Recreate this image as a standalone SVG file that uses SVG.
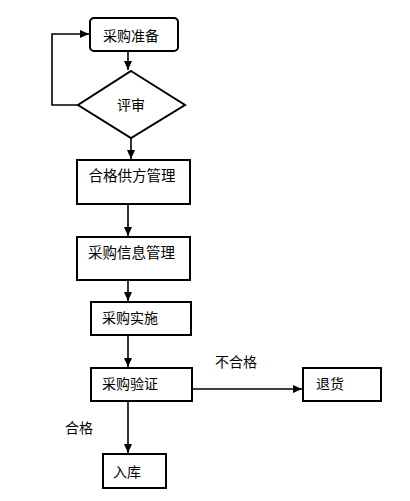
<svg xmlns="http://www.w3.org/2000/svg" width="410" height="501" viewBox="0 0 410 501">
<style>
.box{fill:#fff;stroke:#000;stroke-width:2}
.t{font-family:"Noto Sans CJK SC","Noto Sans",sans-serif;font-size:14px;fill:#000}
.c{fill:none;stroke:#000;stroke-width:1.6}
</style>
<defs>
<marker id="ah" markerUnits="userSpaceOnUse" markerWidth="10" markerHeight="10" refX="9" refY="5" orient="auto">
<path d="M0,1 L9,5 L0,9 Z" fill="#000"/>
</marker>
</defs>
<rect width="410" height="501" fill="#fff"/>
<g id="connectors">
<path class="c" d="M128,51 V70" marker-end="url(#ah)"/>
<path class="c" d="M78,105 H52 V34 H89" marker-end="url(#ah)"/>
<path class="c" d="M131,138 V159" marker-end="url(#ah)"/>
<path class="c" d="M128,204 V236" marker-end="url(#ah)"/>
<path class="c" d="M128,280 V301" marker-end="url(#ah)"/>
<path class="c" d="M128,335 V367" marker-end="url(#ah)"/>
<path class="c" d="M192,389 H302" marker-end="url(#ah)"/>
<path class="c" d="M128,401 V453" marker-end="url(#ah)"/>
<text class="t" x="215" y="366.5">不合格</text>
<text class="t" x="65" y="433">合格</text>
</g>
<g id="n1"><rect class="box" x="90" y="18" width="88" height="33" rx="4"/><text class="t" x="103" y="40.5">采购准备</text></g>
<g id="n2"><polygon class="box" points="131,71 185,105 131,138 78,105"/><text class="t" x="117" y="110">评审</text></g>
<g id="n3"><rect class="box" x="77" y="160" width="113" height="44"/><text class="t" x="88.5" y="181" style="font-size:14.5px">合格供方管理</text></g>
<g id="n4"><rect class="box" x="77" y="237" width="113" height="43"/><text class="t" x="88" y="258" style="font-size:14.5px">采购信息管理</text></g>
<g id="n5"><rect class="box" x="91" y="302" width="100" height="33"/><text class="t" x="102" y="322.5">采购实施</text></g>
<g id="n6"><rect class="box" x="91" y="368" width="101" height="33"/><text class="t" x="102" y="389">采购验证</text></g>
<g id="n7"><rect class="box" x="303" y="368" width="78" height="33"/><text class="t" x="316" y="388.5">退货</text></g>
<g id="n8"><rect class="box" x="103" y="454" width="63" height="34"/><text class="t" x="113" y="476.5">入库</text></g>
</svg>
